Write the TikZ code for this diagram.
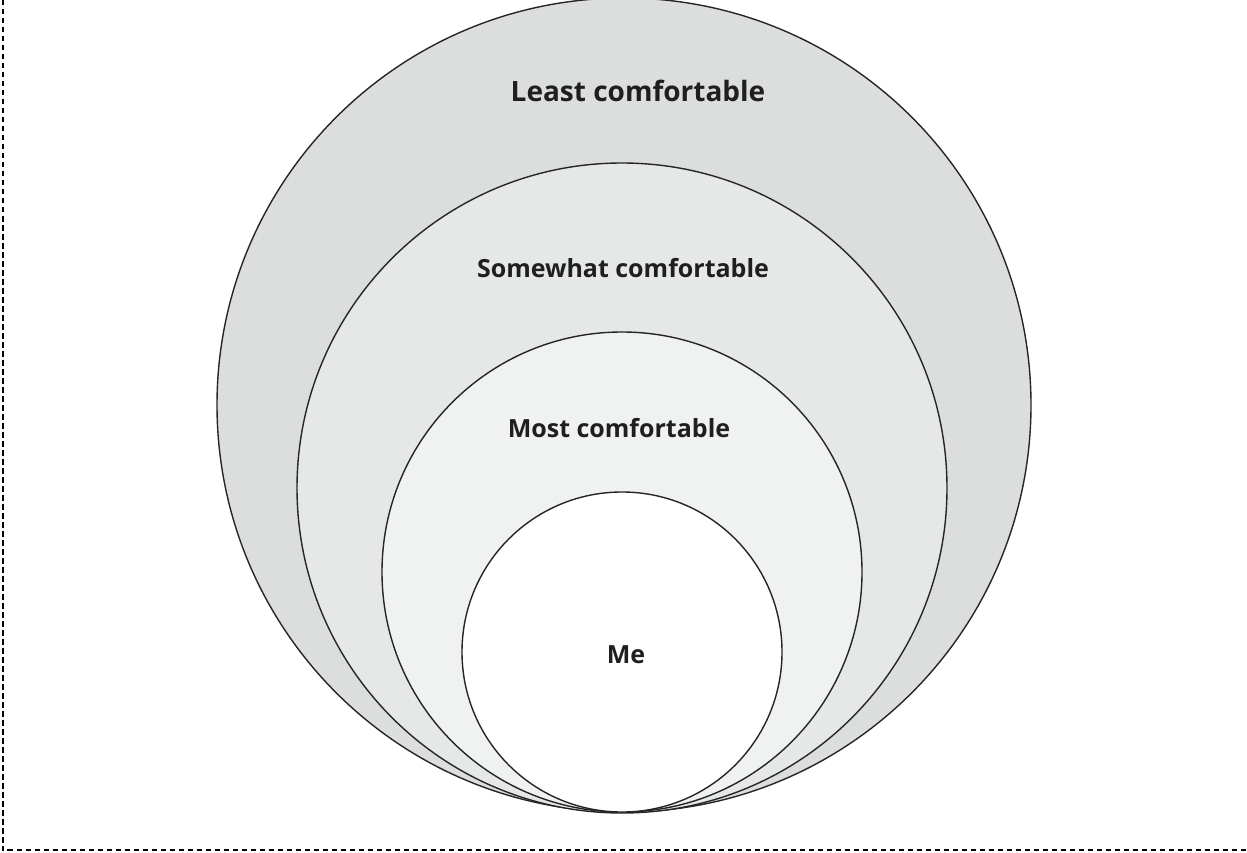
\documentclass[tikz,border=0pt]{standalone}
\usepackage{fontspec}
\setmainfont{Open Sans}
\begin{document}
\begin{tikzpicture}[x=1pt,y=-1pt,
  ring/.style={draw=black!85,line width=1.4pt},
  lbl/.style={font=\bfseries\fontsize{25}{30}\selectfont,text=black!88},
  biglbl/.style={lbl,font=\bfseries\fontsize{28}{32}\selectfont},
  frame/.style={draw=black,line width=2pt,dash pattern=on 5.5pt off 3.5pt}]
\useasboundingbox (0,0) rectangle (1247,853);
% dashed frame (left and bottom edges)
\draw[frame] (2.5,0) -- (2.5,850) -- (1247,850);
% nested comfort zones, all touching at the bottom
\draw[ring,fill={rgb,255:red,220;green,221;blue,221}] (624,405) circle (407);
\draw[ring,fill={rgb,255:red,230;green,231;blue,231}] (622,488) circle (325);
\draw[ring,fill={rgb,255:red,240;green,241;blue,241}] (622,572) circle (240);
\draw[ring,fill=white] (622,652) circle (160);
% labels
\node[biglbl] (least) at (638,91) {Least comfortable};
\node[lbl] (some) at (623,268) {Somewhat comfortable};
\node[lbl] (most) at (619,428) {Most comfortable};
\node[lbl] (me) at (626,655) {Me};
\end{tikzpicture}
\end{document}
